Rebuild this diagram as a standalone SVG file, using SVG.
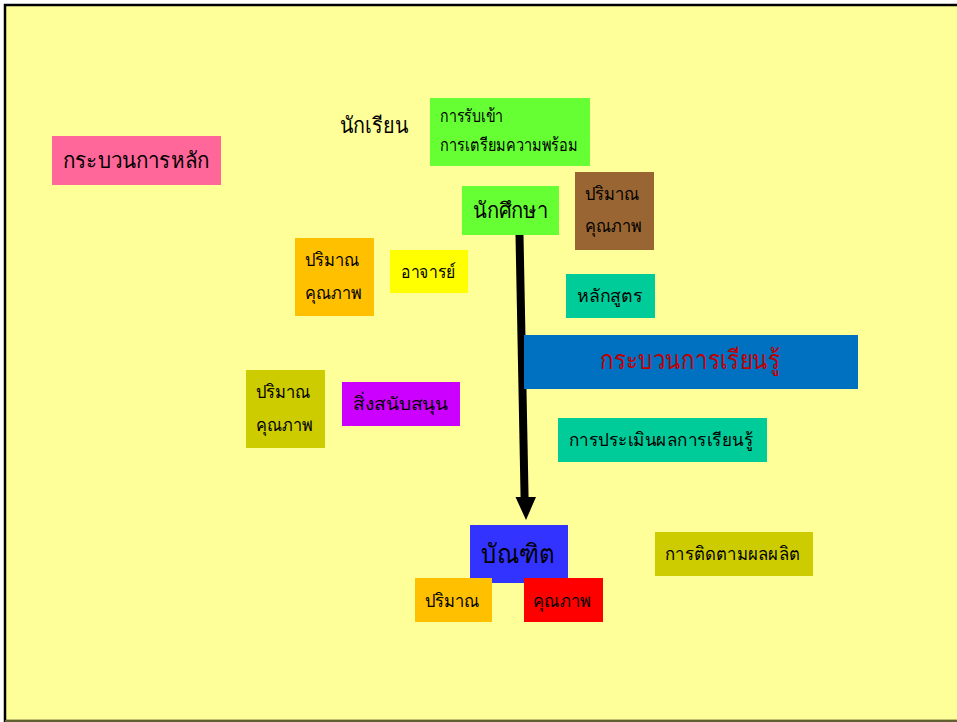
<svg xmlns="http://www.w3.org/2000/svg" width="957" height="722" viewBox="0 0 957 722">
<defs>
<style>
text{font-family:"Liberation Serif","DejaVu Serif",serif;fill:#000;}
.s{font-size:18px;}
.m{font-size:22px;}
.l{font-size:26px;}
</style>
</defs>
<rect x="0" y="0" width="957" height="722" fill="#fff"/>
<rect x="5" y="5" width="960" height="716" fill="#FFFF99" stroke="#000" stroke-width="2.5"/>
<line x1="5" y1="721" x2="957" y2="721" stroke="#808040" stroke-width="1.5"/>
<g id="connectors">
<line x1="519.5" y1="235" x2="524.6" y2="498" stroke="#000" stroke-width="8"/>
<path d="M515.5,497 L536,497 L526,520 z" fill="#000"/>
</g>
<g id="main-process"><rect x="52" y="136" width="169" height="49" fill="#FF6699"/><text class="m" x="63" y="168" textLength="146" lengthAdjust="spacingAndGlyphs">กระบวนการหลัก</text></g>
<g id="student"><text class="m" x="340" y="133" textLength="68" lengthAdjust="spacingAndGlyphs">นักเรียน</text></g>
<g id="admission"><rect x="430" y="98" width="160" height="68" fill="#66FF33"/><text class="s" x="440" y="122" textLength="63" lengthAdjust="spacingAndGlyphs">การรับเข้า</text><text class="s" x="440" y="151" textLength="138" lengthAdjust="spacingAndGlyphs">การเตรียมความพร้อม</text></g>
<g id="undergrad"><rect x="462" y="186" width="97" height="49" fill="#66FF33"/><text class="m" x="473" y="218" textLength="75" lengthAdjust="spacingAndGlyphs">นักศึกษา</text></g>
<g id="qty-quality-1"><rect x="575" y="172" width="79" height="78" fill="#996633"/><text class="s" x="585" y="200" textLength="55" lengthAdjust="spacingAndGlyphs">ปริมาณ</text><text class="s" x="585" y="232" textLength="57" lengthAdjust="spacingAndGlyphs">คุณภาพ</text></g>
<g id="qty-quality-2"><rect x="295" y="238" width="79" height="78" fill="#FFC000"/><text class="s" x="305" y="266" textLength="55" lengthAdjust="spacingAndGlyphs">ปริมาณ</text><text class="s" x="305" y="299" textLength="57" lengthAdjust="spacingAndGlyphs">คุณภาพ</text></g>
<g id="teacher"><rect x="390" y="250" width="78" height="43" fill="#FFFF00"/><text class="s" x="401" y="278" textLength="55" lengthAdjust="spacingAndGlyphs">อาจารย์</text></g>
<g id="curriculum"><rect x="566" y="274" width="89" height="44" fill="#00CC99"/><text class="s" x="577" y="302" textLength="66" lengthAdjust="spacingAndGlyphs">หลักสูตร</text></g>
<g id="learning-process"><rect x="524" y="335" width="334" height="54" fill="#0070C0"/><text class="l" x="600" y="369" textLength="180" lengthAdjust="spacingAndGlyphs" style="fill:#C00000">กระบวนการเรียนรู้</text></g>
<g id="qty-quality-3"><rect x="246" y="370" width="79" height="78" fill="#CCCC00"/><text class="s" x="256" y="398" textLength="55" lengthAdjust="spacingAndGlyphs">ปริมาณ</text><text class="s" x="256" y="431" textLength="57" lengthAdjust="spacingAndGlyphs">คุณภาพ</text></g>
<g id="support"><rect x="342" y="382" width="118" height="44" fill="#CC00FF"/><text class="s" x="353" y="410" textLength="95" lengthAdjust="spacingAndGlyphs">สิ่งสนับสนุน</text></g>
<g id="assessment"><rect x="558" y="418" width="209" height="44" fill="#00CC99"/><text class="s" x="569" y="446" textLength="184" lengthAdjust="spacingAndGlyphs">การประเมินผลการเรียนรู้</text></g>
<g id="graduate"><rect x="470" y="525" width="98" height="58" fill="#3333FF"/><text class="l" x="481" y="563" textLength="74" lengthAdjust="spacingAndGlyphs">บัณฑิต</text></g>
<g id="quantity"><rect x="415" y="578" width="77" height="44" fill="#FFC000"/><text class="s" x="425" y="607" textLength="55" lengthAdjust="spacingAndGlyphs">ปริมาณ</text></g>
<g id="quality"><rect x="524" y="578" width="79" height="44" fill="#FF0000"/><text class="s" x="533" y="607" textLength="58" lengthAdjust="spacingAndGlyphs">คุณภาพ</text></g>
<g id="tracking"><rect x="655" y="532" width="158" height="44" fill="#CCCC00"/><text class="s" x="665" y="560" textLength="135" lengthAdjust="spacingAndGlyphs">การติดตามผลผลิต</text></g>
</svg>
